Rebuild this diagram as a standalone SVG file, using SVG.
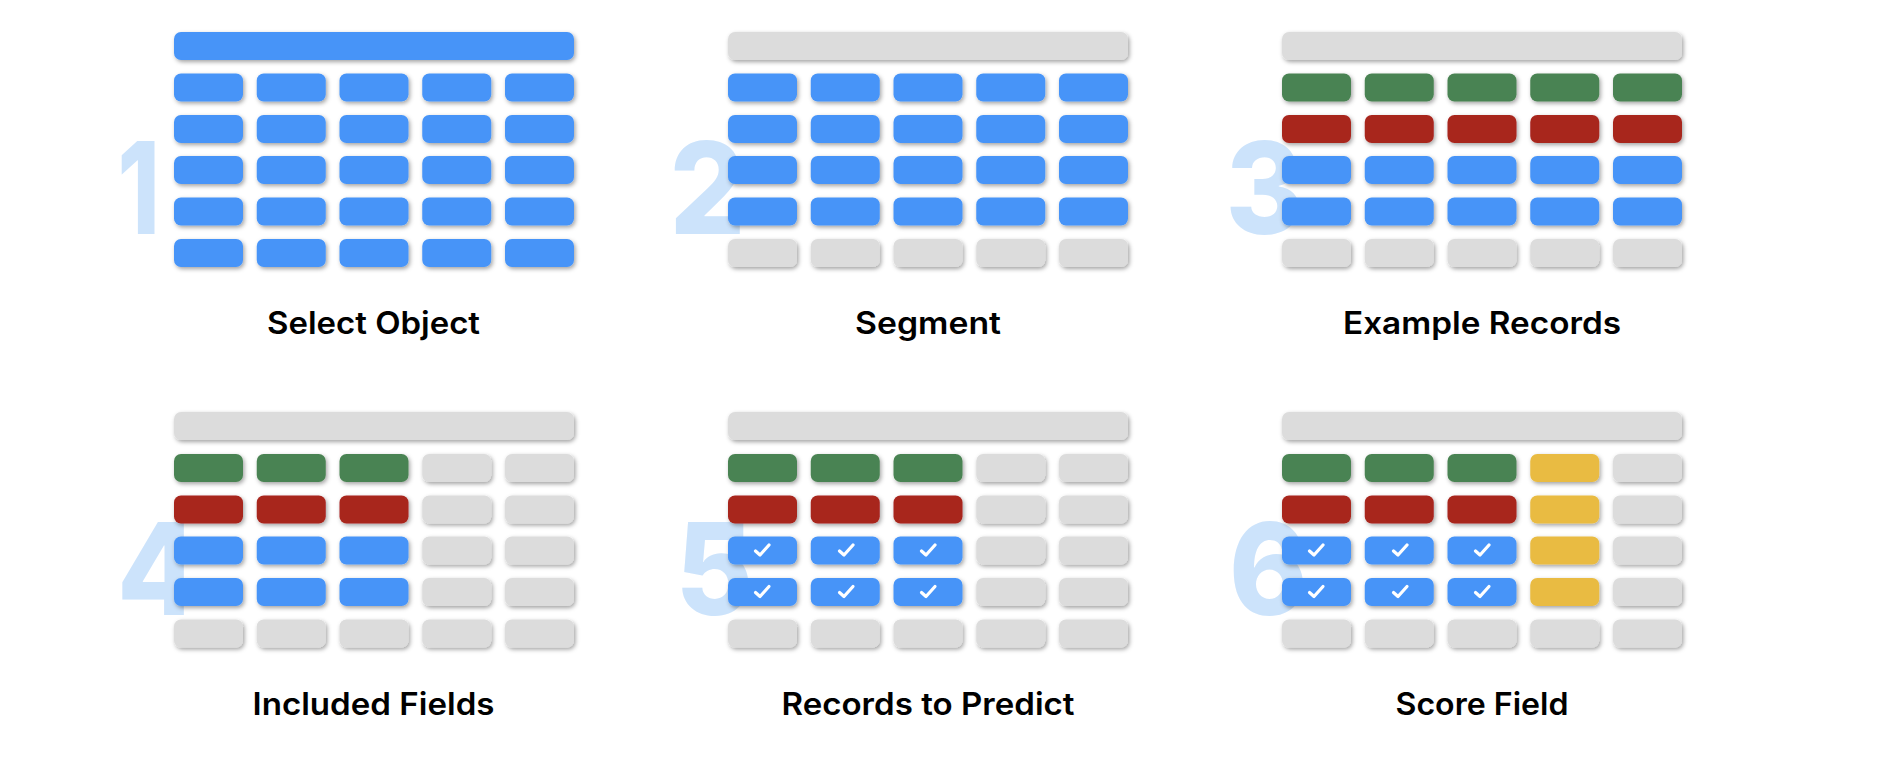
<svg xmlns="http://www.w3.org/2000/svg" width="1880" height="760" viewBox="0 0 1880 760">
<style>
.b{fill:#4694f8}.g{fill:#4a8352}.r{fill:#a8251f}.y{fill:#e9bb42}.n{fill:#dcdcdc}
.digit{font-family:"Inter","Liberation Sans",sans-serif;font-weight:800;font-size:128px;fill:#cce3fb}
.label{font-family:"Inter","Liberation Sans",sans-serif;font-weight:600;font-size:31px;fill:#000;text-anchor:middle}
.ck{fill:none;stroke:#fff;stroke-width:3.2;stroke-linecap:round;stroke-linejoin:round}
</style>
<defs>
<filter id="s" x="-20%" y="-30%" width="140%" height="170%"><feDropShadow dx="1.5" dy="2" stdDeviation="2" flood-color="#000" flood-opacity="0.36"/></filter>
<rect id="bar" width="400" height="28" rx="7"/>
<rect id="c" width="69" height="28" rx="7"/>
<path id="k" class="ck" d="M-6.5 1L-2 5L7 -5"/>
</defs>
<rect width="1880" height="760" fill="#fff"/>
<g id="panel-1">
<text class="digit" transform="translate(117.5 234) scale(.75 1)">1</text>
<g filter="url(#s)" class="b">
<use href="#bar" x="174" y="32"/>
<use href="#c" x="174" y="73.5"/><use href="#c" x="256.75" y="73.5"/><use href="#c" x="339.5" y="73.5"/><use href="#c" x="422.25" y="73.5"/><use href="#c" x="505" y="73.5"/>
<use href="#c" x="174" y="115"/><use href="#c" x="256.75" y="115"/><use href="#c" x="339.5" y="115"/><use href="#c" x="422.25" y="115"/><use href="#c" x="505" y="115"/>
<use href="#c" x="174" y="156"/><use href="#c" x="256.75" y="156"/><use href="#c" x="339.5" y="156"/><use href="#c" x="422.25" y="156"/><use href="#c" x="505" y="156"/>
<use href="#c" x="174" y="197.5"/><use href="#c" x="256.75" y="197.5"/><use href="#c" x="339.5" y="197.5"/><use href="#c" x="422.25" y="197.5"/><use href="#c" x="505" y="197.5"/>
<use href="#c" x="174" y="239"/><use href="#c" x="256.75" y="239"/><use href="#c" x="339.5" y="239"/><use href="#c" x="422.25" y="239"/><use href="#c" x="505" y="239"/>
</g>
<text class="label" x="373.5" y="334" textLength="213" lengthAdjust="spacingAndGlyphs">Select Object</text>
</g>
<g id="panel-2">
<text class="digit" transform="translate(669.5 234) scale(.93 1)">2</text>
<g filter="url(#s)">
<use href="#bar" class="n" x="728" y="32"/>
<g class="b">
<use href="#c" x="728" y="73.5"/><use href="#c" x="810.75" y="73.5"/><use href="#c" x="893.5" y="73.5"/><use href="#c" x="976.25" y="73.5"/><use href="#c" x="1059" y="73.5"/>
<use href="#c" x="728" y="115"/><use href="#c" x="810.75" y="115"/><use href="#c" x="893.5" y="115"/><use href="#c" x="976.25" y="115"/><use href="#c" x="1059" y="115"/>
<use href="#c" x="728" y="156"/><use href="#c" x="810.75" y="156"/><use href="#c" x="893.5" y="156"/><use href="#c" x="976.25" y="156"/><use href="#c" x="1059" y="156"/>
<use href="#c" x="728" y="197.5"/><use href="#c" x="810.75" y="197.5"/><use href="#c" x="893.5" y="197.5"/><use href="#c" x="976.25" y="197.5"/><use href="#c" x="1059" y="197.5"/>
</g>
<g class="n">
<use href="#c" x="728" y="239"/><use href="#c" x="810.75" y="239"/><use href="#c" x="893.5" y="239"/><use href="#c" x="976.25" y="239"/><use href="#c" x="1059" y="239"/>
</g>
</g>
<text class="label" x="928" y="334" textLength="146" lengthAdjust="spacingAndGlyphs">Segment</text>
</g>
<g id="panel-3">
<text class="digit" transform="translate(1225.5 234) scale(.93 1)">3</text>
<g filter="url(#s)">
<use href="#bar" class="n" x="1282" y="32"/>
<g class="g">
<use href="#c" x="1282" y="73.5"/><use href="#c" x="1364.75" y="73.5"/><use href="#c" x="1447.5" y="73.5"/><use href="#c" x="1530.25" y="73.5"/><use href="#c" x="1613" y="73.5"/>
</g>
<g class="r">
<use href="#c" x="1282" y="115"/><use href="#c" x="1364.75" y="115"/><use href="#c" x="1447.5" y="115"/><use href="#c" x="1530.25" y="115"/><use href="#c" x="1613" y="115"/>
</g>
<g class="b">
<use href="#c" x="1282" y="156"/><use href="#c" x="1364.75" y="156"/><use href="#c" x="1447.5" y="156"/><use href="#c" x="1530.25" y="156"/><use href="#c" x="1613" y="156"/>
<use href="#c" x="1282" y="197.5"/><use href="#c" x="1364.75" y="197.5"/><use href="#c" x="1447.5" y="197.5"/><use href="#c" x="1530.25" y="197.5"/><use href="#c" x="1613" y="197.5"/>
</g>
<g class="n">
<use href="#c" x="1282" y="239"/><use href="#c" x="1364.75" y="239"/><use href="#c" x="1447.5" y="239"/><use href="#c" x="1530.25" y="239"/><use href="#c" x="1613" y="239"/>
</g>
</g>
<text class="label" x="1482" y="334" textLength="278" lengthAdjust="spacingAndGlyphs">Example Records</text>
</g>
<g id="panel-4">
<text class="digit" transform="translate(117 615) scale(.93 1)">4</text>
<g filter="url(#s)">
<use href="#bar" class="n" x="174" y="412"/>
<g class="g"><use href="#c" x="174" y="454"/><use href="#c" x="256.75" y="454"/><use href="#c" x="339.5" y="454"/></g>
<g class="r"><use href="#c" x="174" y="495.5"/><use href="#c" x="256.75" y="495.5"/><use href="#c" x="339.5" y="495.5"/></g>
<g class="b"><use href="#c" x="174" y="536.5"/><use href="#c" x="256.75" y="536.5"/><use href="#c" x="339.5" y="536.5"/><use href="#c" x="174" y="578"/><use href="#c" x="256.75" y="578"/><use href="#c" x="339.5" y="578"/></g>
<g class="n">
<use href="#c" x="422.25" y="454"/><use href="#c" x="505" y="454"/>
<use href="#c" x="422.25" y="495.5"/><use href="#c" x="505" y="495.5"/>
<use href="#c" x="422.25" y="536.5"/><use href="#c" x="505" y="536.5"/>
<use href="#c" x="422.25" y="578"/><use href="#c" x="505" y="578"/>
<use href="#c" x="174" y="619.5"/><use href="#c" x="256.75" y="619.5"/><use href="#c" x="339.5" y="619.5"/><use href="#c" x="422.25" y="619.5"/><use href="#c" x="505" y="619.5"/>
</g>
</g>
<text class="label" x="373.5" y="715" textLength="242" lengthAdjust="spacingAndGlyphs">Included Fields</text>
</g>
<g id="panel-5">
<text class="digit" transform="translate(675.5 615) scale(.93 1)">5</text>
<g filter="url(#s)">
<use href="#bar" class="n" x="728" y="412"/>
<g class="g"><use href="#c" x="728" y="454"/><use href="#c" x="810.75" y="454"/><use href="#c" x="893.5" y="454"/></g>
<g class="r"><use href="#c" x="728" y="495.5"/><use href="#c" x="810.75" y="495.5"/><use href="#c" x="893.5" y="495.5"/></g>
<g class="b"><use href="#c" x="728" y="536.5"/><use href="#c" x="810.75" y="536.5"/><use href="#c" x="893.5" y="536.5"/><use href="#c" x="728" y="578"/><use href="#c" x="810.75" y="578"/><use href="#c" x="893.5" y="578"/></g>
<g class="n">
<use href="#c" x="976.25" y="454"/><use href="#c" x="1059" y="454"/>
<use href="#c" x="976.25" y="495.5"/><use href="#c" x="1059" y="495.5"/>
<use href="#c" x="976.25" y="536.5"/><use href="#c" x="1059" y="536.5"/>
<use href="#c" x="976.25" y="578"/><use href="#c" x="1059" y="578"/>
<use href="#c" x="728" y="619.5"/><use href="#c" x="810.75" y="619.5"/><use href="#c" x="893.5" y="619.5"/><use href="#c" x="976.25" y="619.5"/><use href="#c" x="1059" y="619.5"/>
</g>
</g>
<use href="#k" x="762" y="550"/><use href="#k" x="846" y="550"/><use href="#k" x="928" y="550"/>
<use href="#k" x="762" y="591.5"/><use href="#k" x="846" y="591.5"/><use href="#k" x="928" y="591.5"/>
<text class="label" x="928" y="715" textLength="293" lengthAdjust="spacingAndGlyphs">Records to Predict</text>
</g>
<g id="panel-6">
<text class="digit" transform="translate(1229 615) scale(.93 1)">6</text>
<g filter="url(#s)">
<use href="#bar" class="n" x="1282" y="412"/>
<g class="g"><use href="#c" x="1282" y="454"/><use href="#c" x="1364.75" y="454"/><use href="#c" x="1447.5" y="454"/></g>
<g class="r"><use href="#c" x="1282" y="495.5"/><use href="#c" x="1364.75" y="495.5"/><use href="#c" x="1447.5" y="495.5"/></g>
<g class="b"><use href="#c" x="1282" y="536.5"/><use href="#c" x="1364.75" y="536.5"/><use href="#c" x="1447.5" y="536.5"/><use href="#c" x="1282" y="578"/><use href="#c" x="1364.75" y="578"/><use href="#c" x="1447.5" y="578"/></g>
<g class="y"><use href="#c" x="1530.25" y="454"/><use href="#c" x="1530.25" y="495.5"/><use href="#c" x="1530.25" y="536.5"/><use href="#c" x="1530.25" y="578"/></g>
<g class="n">
<use href="#c" x="1613" y="454"/><use href="#c" x="1613" y="495.5"/><use href="#c" x="1613" y="536.5"/><use href="#c" x="1613" y="578"/>
<use href="#c" x="1282" y="619.5"/><use href="#c" x="1364.75" y="619.5"/><use href="#c" x="1447.5" y="619.5"/><use href="#c" x="1530.25" y="619.5"/><use href="#c" x="1613" y="619.5"/>
</g>
</g>
<use href="#k" x="1316" y="550"/><use href="#k" x="1400" y="550"/><use href="#k" x="1482" y="550"/>
<use href="#k" x="1316" y="591.5"/><use href="#k" x="1400" y="591.5"/><use href="#k" x="1482" y="591.5"/>
<text class="label" x="1482" y="715" textLength="173" lengthAdjust="spacingAndGlyphs">Score Field</text>
</g>
</svg>
